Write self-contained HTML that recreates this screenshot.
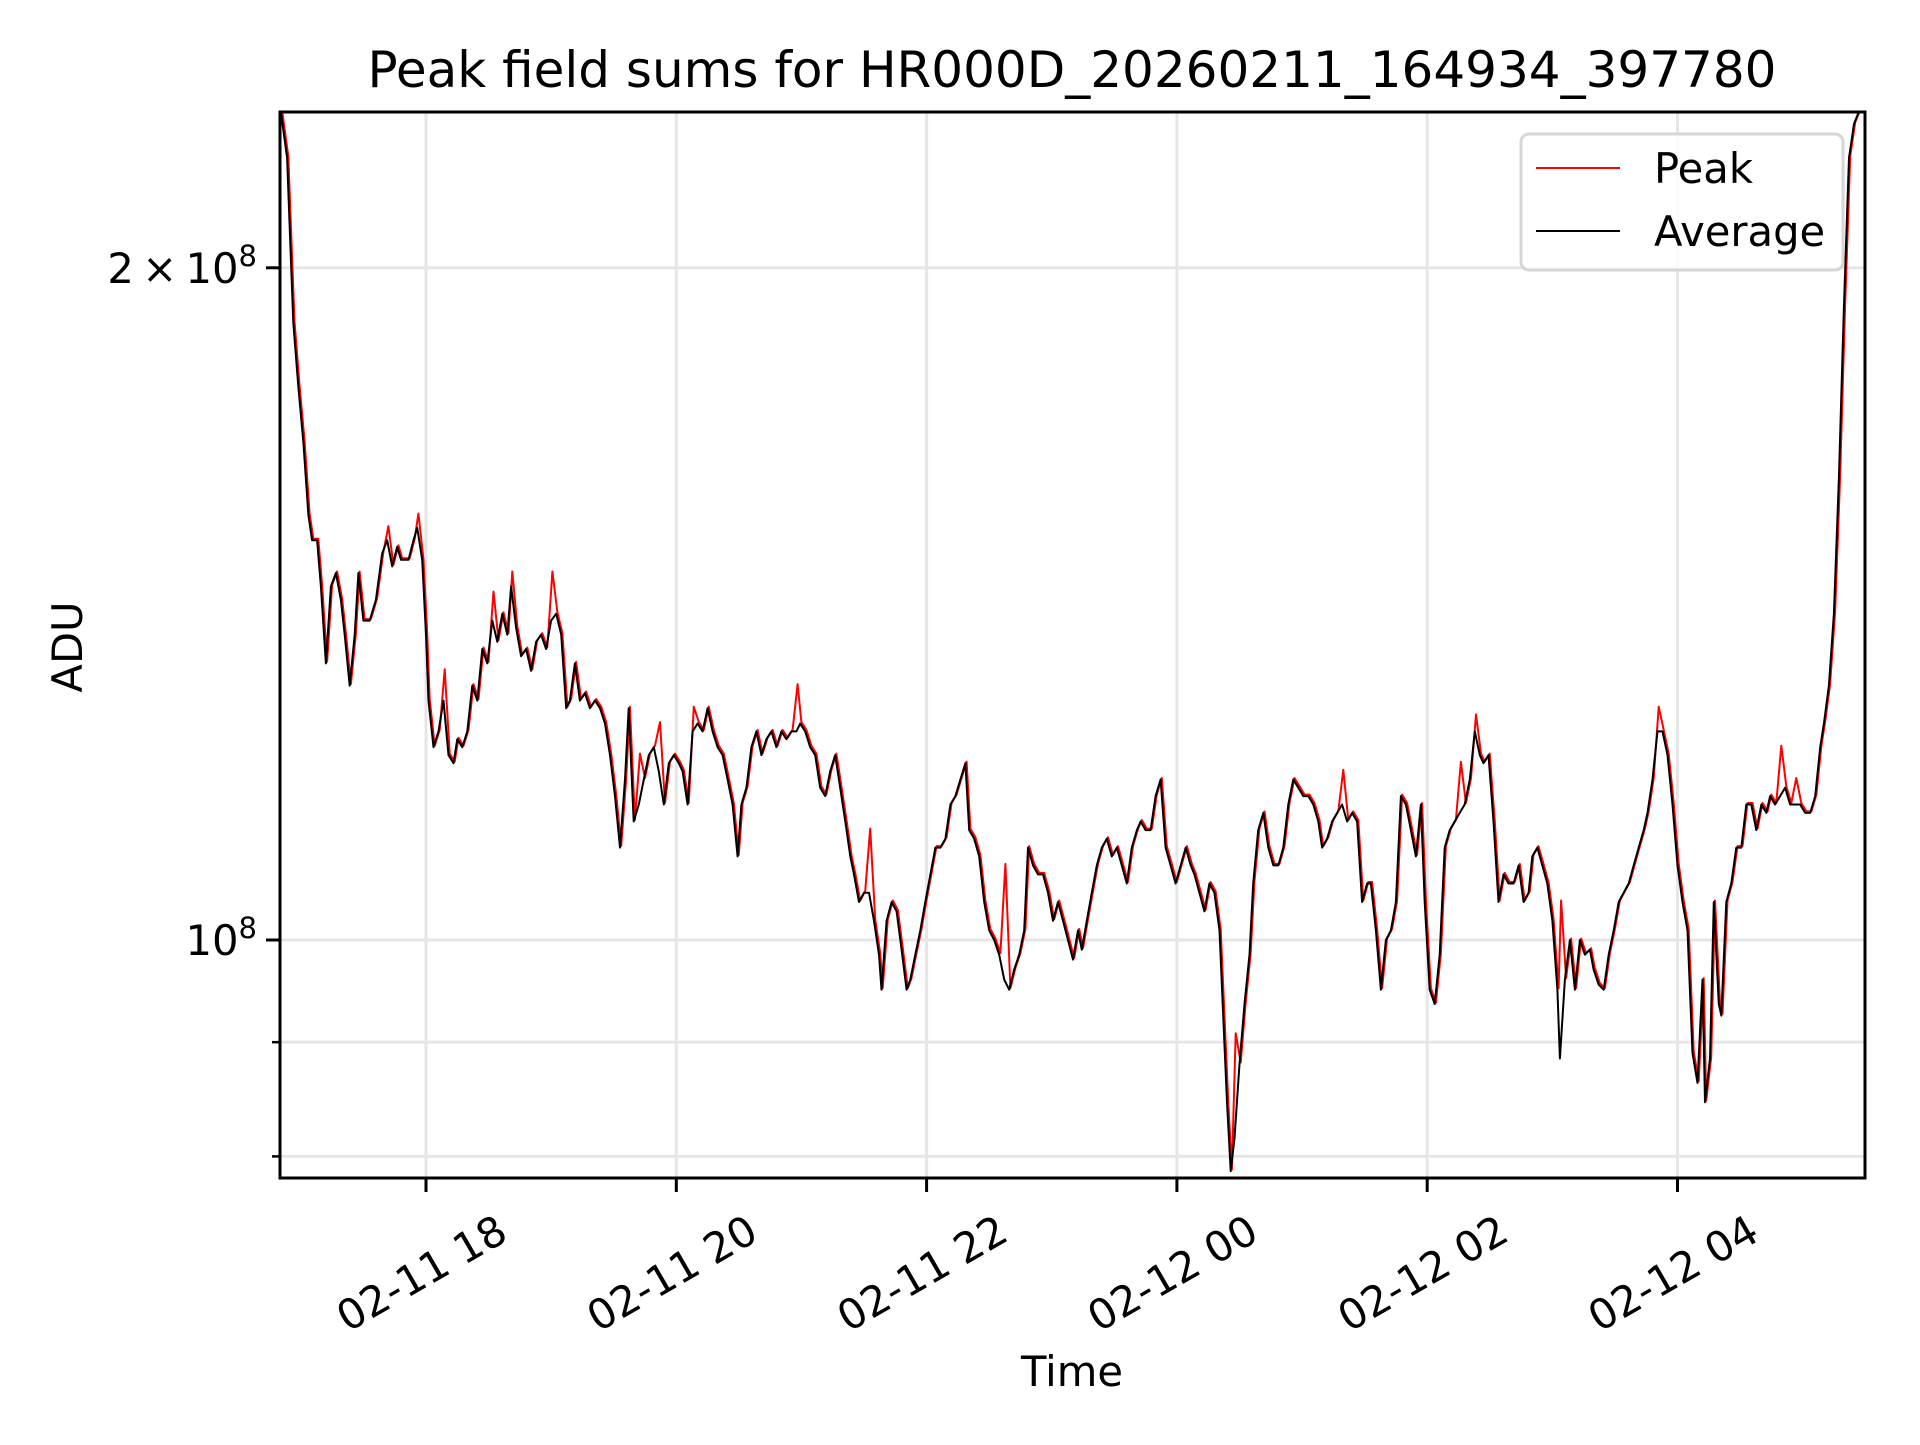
<!DOCTYPE html>
<html><head><meta charset="utf-8"><style>
html,body{margin:0;padding:0;background:#fff;}
svg text{font-family:"DejaVu Sans","Liberation Sans",sans-serif;fill:#000;}
</style></head>
<body>
<svg id="chart" width="1920" height="1440" viewBox="0 0 1920 1440" xmlns="http://www.w3.org/2000/svg">
<rect x="0" y="0" width="1920" height="1440" fill="#fff"/>
<text x="1072" y="87" font-size="50" text-anchor="middle">Peak field sums for HR000D_20260211_164934_397780</text>
<g id="grid"></g>
<g id="series"></g>
<rect x="280" y="112" width="1585" height="1066" fill="none" stroke="#000" stroke-width="3"/>
<g id="axes"></g>
<text transform="translate(82,647) rotate(-90)" font-size="41.7" text-anchor="middle">ADU</text>
<text x="1072" y="1386" font-size="41.7" text-anchor="middle">Time</text>
<g>
<rect x="1521" y="134" width="322" height="136" rx="8" fill="#fff" fill-opacity="0.8" stroke="#d6d6d6" stroke-width="3"/>
<line x1="1536" y1="168" x2="1620" y2="168" stroke="#ff0000" stroke-width="2"/>
<text x="1654" y="183" font-size="41.7">Peak</text>
<line x1="1536" y1="231" x2="1620" y2="231" stroke="#000" stroke-width="2"/>
<text x="1654" y="246" font-size="41.7">Average</text>
</g>
</svg>
<script>
// time in hours since 02-11 00:00
const times = [16.84,16.89,16.94,16.98,17.02,17.06,17.09,17.13,17.16,17.20,17.24,17.28,17.32,17.35,17.39,17.43,17.46,17.50,17.55,17.60,17.65,17.69,17.73,17.77,17.80,17.86,17.90,17.93,17.97,18.00,18.02,18.06,18.10,18.14,18.18,18.22,18.25,18.29,18.33,18.37,18.41,18.45,18.49,18.53,18.57,18.61,18.65,18.68,18.72,18.76,18.80,18.84,18.88,18.92,18.96,19.00,19.04,19.08,19.12,19.15,19.19,19.23,19.27,19.31,19.35,19.39,19.43,19.47,19.51,19.55,19.59,19.62,19.66,19.70,19.74,19.78,19.82,19.86,19.90,19.94,19.98,20.02,20.05,20.09,20.13,20.17,20.21,20.25,20.29,20.33,20.37,20.41,20.45,20.49,20.52,20.56,20.60,20.64,20.68,20.72,20.76,20.80,20.84,20.88,20.92,20.96,20.99,21.03,21.07,21.11,21.15,21.19,21.23,21.27,21.31,21.35,21.39,21.42,21.46,21.50,21.54,21.58,21.62,21.64,21.68,21.72,21.76,21.80,21.84,21.87,21.91,21.95,21.99,22.03,22.07,22.11,22.15,22.19,22.23,22.27,22.31,22.34,22.38,22.42,22.46,22.50,22.54,22.58,22.62,22.66,22.70,22.74,22.78,22.81,22.85,22.89,22.93,22.97,23.01,23.05,23.09,23.13,23.17,23.21,23.24,23.28,23.32,23.36,23.40,23.44,23.48,23.52,23.56,23.60,23.64,23.68,23.71,23.75,23.79,23.83,23.87,23.91,23.95,23.99,24.03,24.07,24.11,24.14,24.18,24.22,24.26,24.30,24.34,24.37,24.40,24.43,24.46,24.50,24.54,24.58,24.61,24.65,24.69,24.73,24.77,24.81,24.85,24.89,24.93,24.97,25.01,25.05,25.09,25.13,25.16,25.20,25.24,25.28,25.32,25.36,25.40,25.44,25.48,25.52,25.55,25.59,25.63,25.67,25.71,25.75,25.79,25.83,25.87,25.91,25.95,25.98,26.02,26.06,26.10,26.14,26.18,26.22,26.26,26.30,26.34,26.38,26.42,26.45,26.49,26.53,26.57,26.61,26.65,26.69,26.73,26.77,26.81,26.84,26.88,26.92,26.96,27.00,27.04,27.06,27.10,27.14,27.18,27.22,27.26,27.30,27.33,27.37,27.41,27.45,27.49,27.53,27.57,27.61,27.65,27.69,27.73,27.76,27.80,27.84,27.88,27.92,27.96,28.00,28.04,28.08,28.12,28.16,28.20,28.22,28.26,28.29,28.33,28.35,28.39,28.43,28.47,28.51,28.55,28.59,28.63,28.67,28.71,28.74,28.78,28.82,28.86,28.90,28.94,28.98,29.02,29.06,29.10,29.14,29.17,29.21,29.25,29.29,29.33,29.37,29.41,29.45,29.50];
// average ADU in units of 1e8
const averageValues = [2.35,2.24,1.89,1.77,1.67,1.55,1.51,1.51,1.44,1.33,1.44,1.46,1.42,1.37,1.30,1.37,1.46,1.39,1.39,1.42,1.49,1.51,1.47,1.50,1.48,1.48,1.51,1.53,1.48,1.37,1.28,1.22,1.24,1.28,1.21,1.20,1.23,1.22,1.24,1.30,1.28,1.35,1.33,1.39,1.36,1.40,1.37,1.44,1.38,1.34,1.35,1.32,1.36,1.37,1.35,1.39,1.40,1.37,1.27,1.28,1.33,1.28,1.29,1.27,1.28,1.27,1.25,1.21,1.16,1.10,1.18,1.27,1.13,1.15,1.18,1.21,1.22,1.19,1.15,1.20,1.21,1.20,1.19,1.15,1.24,1.25,1.24,1.27,1.24,1.22,1.21,1.18,1.15,1.09,1.15,1.17,1.22,1.24,1.21,1.23,1.24,1.22,1.24,1.23,1.24,1.24,1.25,1.24,1.22,1.21,1.17,1.16,1.19,1.21,1.17,1.13,1.09,1.07,1.04,1.05,1.05,1.02,0.985,0.95,1.02,1.04,1.03,0.99,0.95,0.96,0.985,1.01,1.04,1.07,1.10,1.10,1.11,1.15,1.16,1.18,1.20,1.12,1.11,1.09,1.04,1.01,1.00,0.985,0.96,0.95,0.97,0.985,1.01,1.10,1.08,1.07,1.07,1.05,1.02,1.04,1.02,1.00,0.98,1.01,0.99,1.02,1.05,1.08,1.10,1.11,1.09,1.10,1.08,1.06,1.10,1.12,1.13,1.12,1.12,1.16,1.18,1.10,1.08,1.06,1.08,1.10,1.08,1.07,1.05,1.03,1.06,1.05,1.01,0.925,0.846,0.788,0.815,0.88,0.936,0.985,1.06,1.12,1.14,1.10,1.08,1.08,1.10,1.15,1.18,1.17,1.16,1.16,1.15,1.13,1.10,1.11,1.13,1.14,1.15,1.13,1.14,1.13,1.04,1.06,1.06,1.01,0.95,1.00,1.01,1.04,1.16,1.15,1.12,1.09,1.15,1.04,0.95,0.936,0.985,1.10,1.12,1.13,1.14,1.15,1.18,1.24,1.21,1.20,1.21,1.13,1.04,1.07,1.06,1.06,1.08,1.04,1.05,1.09,1.10,1.08,1.06,1.02,0.95,0.885,0.96,1.00,0.95,1.00,0.985,0.99,0.97,0.955,0.95,0.985,1.01,1.04,1.05,1.06,1.08,1.10,1.12,1.14,1.18,1.24,1.24,1.21,1.15,1.08,1.04,1.01,0.89,0.863,0.96,0.846,0.885,1.04,0.936,0.925,1.04,1.06,1.10,1.10,1.15,1.15,1.12,1.15,1.14,1.16,1.15,1.16,1.17,1.15,1.15,1.15,1.14,1.14,1.16,1.22,1.25,1.30,1.40,1.61,1.92,2.24,2.32,2.35,2.35];
// peak series: tracks the average, with these spikes (times in hours, values in 1e8)
const peakSpikeTimes = [17.69,17.93,18.14,18.53,18.68,19.00,19.70,19.86,20.13,20.96,21.54,22.62,24.46,25.32,26.26,26.38,27.06,27.84,28.82,28.94];
const peakSpikeValues = [1.53,1.55,1.32,1.43,1.46,1.46,1.21,1.25,1.27,1.30,1.12,1.08,0.907,1.19,1.20,1.26,1.04,1.27,1.22,1.18];
const xTickHours = [18,20,22,24,26,28];
const xTickLabels = ["02-11 18","02-11 20","02-11 22","02-12 00","02-12 02","02-12 04"];
const yMajorValues = [2,1];
const yMinorValues = [0.9,0.8];

const NS = "http://www.w3.org/2000/svg";
const L = 280, R = 1865, T = 112, B = 1178;
function xScale(t){ return 426 + (t - 18) * 125.15; }
function yScale(v){ return 940 - Math.log2(v) * 672.2; }
function mk(tag, attrs, parent){ const e = document.createElementNS(NS, tag); for (const k in attrs) e.setAttribute(k, attrs[k]); parent.appendChild(e); return e; }

const grid = document.getElementById('grid');
const axes = document.getElementById('axes');
const series = document.getElementById('series');

xTickHours.forEach((h, i) => {
  const x = xScale(h);
  const g = mk('line', {x1:x, y1:T, x2:x, y2:B, stroke:'#e6e6e6', 'stroke-width':3}, grid);
  
  
  const tk = mk('line', {x1:x, y1:B, x2:x, y2:B+14, stroke:'#000', 'stroke-width':3}, axes);
  
  
  const tx = mk('text', {transform:'translate(' + (x+84) + ',1239) rotate(-30)', 'font-size':41.7, 'text-anchor':'end'}, axes);
  tx.textContent = xTickLabels[i];
  
  
});

yMajorValues.concat(yMinorValues).forEach((v, i) => {
  const y = yScale(v);
  const g = mk('line', {x1:L, y1:y, x2:R, y2:y, stroke:'#e6e6e6', 'stroke-width':3}, grid);
  
  
  const major = i < yMajorValues.length;
  const tk = mk('line', {x1:L - (major ? 14 : 8), y1:y, x2:L, y2:y, stroke:'#000', 'stroke-width':major ? 3 : 2.5}, axes);
  
  
  if (major) {
    const tx = mk('text', {x:257, y:y+15, 'font-size':41.7, 'text-anchor':'end'}, axes);
    
    
    const pre = (v === 1) ? '10' : (v + '\u2009\u00d7\u200910');
    const t1 = document.createElementNS(NS, 'tspan'); t1.textContent = pre; tx.appendChild(t1);
    const t2 = document.createElementNS(NS, 'tspan'); t2.setAttribute('font-size', '29'); t2.setAttribute('dy', '-17'); t2.textContent = '8'; tx.appendChild(t2);
  }
});

// build peak series
const peakTimes = times.slice();
const peakValues = averageValues.slice();
peakSpikeTimes.forEach((t, i) => {
  let best = 0, bd = 1e9;
  peakTimes.forEach((tt, j) => { const d = Math.abs(tt - t); if (d < bd) { bd = d; best = j; } });
  peakValues[best] = Math.max(peakValues[best], peakSpikeValues[i]);
});

function pathFor(ts, vs, dx, dy){
  return ts.map((t, i) => (i ? 'L' : 'M') + (xScale(t) + dx).toFixed(1) + ' ' + (yScale(vs[i]) + dy).toFixed(1)).join(' ');
}
const clip = mk('clipPath', {id:'plotclip'}, series);
mk('rect', {x:L, y:T, width:R-L, height:B-T}, clip);
const peakLine = mk('path', {d:pathFor(peakTimes, peakValues, 1.2, -1.5), fill:'none', stroke:'#ff0000', 'stroke-width':2, 'stroke-linejoin':'round', 'clip-path':'url(#plotclip)'}, series);


const avgLine = mk('path', {d:pathFor(times, averageValues, 0, 0), fill:'none', stroke:'#000', 'stroke-width':2, 'stroke-linejoin':'round', 'clip-path':'url(#plotclip)'}, series);


</script>
</body></html>
